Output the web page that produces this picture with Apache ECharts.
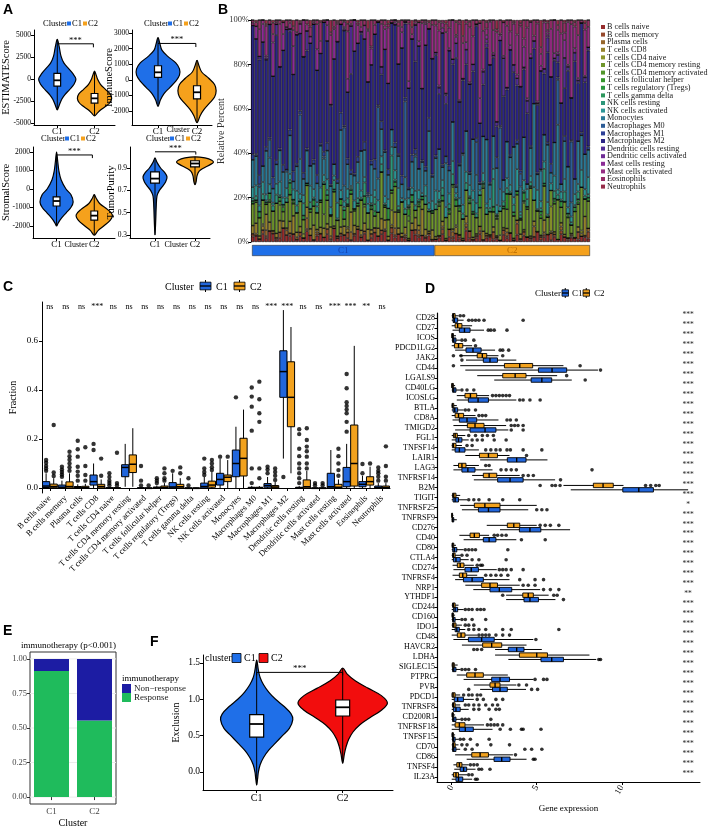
<!DOCTYPE html>
<html><head><meta charset="utf-8">
<script src="https://cdn.jsdelivr.net/npm/echarts@6/dist/echarts.min.js"></script>
<style>html,body{margin:0;padding:0;background:#fff}#c{width:708px;height:829px}</style>
</head><body><div id="c"></div><script>
// ================= DATA =================
const clusterNames = ['C1','C2'];

// Panel A: violin outlines [value, half-width in cluster units], boxes [q1, median, q3]
const estimateC1 = [[4500,0],[3700,0.05],[2600,0.1],[1800,0.18],[1200,0.3],[600,0.42],[0,0.5],[-600,0.45],[-1200,0.33],[-1800,0.2],[-2300,0.12],[-3000,0.05],[-3500,0]];
const estimateC2 = [[900,0],[500,0.04],[0,0.08],[-600,0.16],[-1200,0.3],[-1700,0.42],[-2200,0.46],[-2700,0.41],[-3100,0.3],[-3500,0.17],[-3900,0.07],[-4200,0]];
const estimateBox = [[-800,-150,650],[-2750,-2200,-1650]];
const immuneC1 = [[2700,0],[2300,0.05],[1900,0.1],[1500,0.25],[1100,0.45],[700,0.55],[300,0.55],[-100,0.45],[-500,0.3],[-900,0.15],[-1300,0.06],[-1700,0]];
const immuneC2 = [[1250,0],[900,0.05],[500,0.12],[100,0.3],[-300,0.45],[-700,0.49],[-1100,0.45],[-1500,0.32],[-1900,0.18],[-2300,0.08],[-2750,0]];
const immuneBox = [[150,480,900],[-1220,-800,-380]];
const stromalC1 = [[2000,0],[1500,0.03],[1000,0.06],[500,0.12],[0,0.25],[-300,0.38],[-700,0.44],[-1000,0.38],[-1300,0.25],[-1600,0.12],[-1850,0.04],[-2000,0]];
const stromalC2 = [[-300,0],[-500,0.05],[-800,0.15],[-1100,0.35],[-1400,0.48],[-1700,0.42],[-2000,0.25],[-2250,0.1],[-2500,0]];
const stromalBox = [[-920,-650,-430],[-1680,-1440,-1190]];
const purityC1 = [[0.99,0],[0.95,0.05],[0.9,0.14],[0.86,0.24],[0.82,0.3],[0.78,0.27],[0.74,0.2],[0.7,0.11],[0.65,0.05],[0.55,0.03],[0.45,0.02],[0.3,0]];
const purityC2 = [[1.0,0],[0.99,0.25],[0.97,0.42],[0.95,0.46],[0.93,0.38],[0.9,0.22],[0.87,0.1],[0.83,0.05],[0.78,0.03],[0.75,0]];
const purityBox = [[0.765,0.805,0.865],[0.91,0.94,0.965]];

// Panel B: cell types and per-sample CIBERSORT estimates (C1 samples first, then C2)
const cellTypes = ['B cells naive','B cells memory','Plasma cells','T cells CD8','T cells CD4 naive','T cells CD4 memory resting','T cells CD4 memory activated','T cells follicular helper','T cells regulatory (Tregs)','T cells gamma delta','NK cells resting','NK cells activated','Monocytes','Macrophages M0','Macrophages M1','Macrophages M2','Dendritic cells resting','Dendritic cells activated','Mast cells resting','Mast cells activated','Eosinophils','Neutrophils'];
const clusterSizes = [54, 46];
const pctBNaive = [2,3,1,4,2,5,3,1,2,6, 3,2,4,1,3,2,5,2,1,3, 4,2,3,1,6,2,3,4,2,1, 3,5,2,3,1,2,4,3,2,6, 1,3,2,4,3,2,1,5,3,2, 4,2,3,1,
  1,2,3,1,2,1,4,2,1,3, 2,1,2,5,1,2,3,1,2,1, 3,2,4,1,2,1,3,2,1,2, 6,1,2,3,1,2,1,4,2,1, 3,2,1,2,3,1];
const pctBMemory = [1,0,0,2,1,0,0,1,3,0, 0,1,0,0,2,0,1,0,0,1, 0,0,2,1,0,0,1,0,3,0, 1,0,0,1,0,2,0,0,1,0, 0,2,1,0,0,1,0,0,2,1, 0,0,1,0,
  0,1,2,0,3,1,0,2,0,1, 4,0,1,2,0,1,0,3,1,0, 2,1,0,0,3,1,2,0,1,0, 0,2,1,0,4,1,0,2,0,1, 1,0,3,0,1,2];
const pctPlasma = [0,1,0,0,3,0,1,0,0,0, 2,0,0,1,0,0,5,0,0,1, 0,0,0,2,0,1,0,0,0,4, 0,0,1,0,0,0,2,0,0,1, 0,0,3,0,0,1,0,0,0,2, 0,1,0,0,
  0,0,1,0,0,2,0,0,0,1, 0,0,0,3,0,0,1,0,0,0, 0,2,0,0,1,0,0,0,0,4, 0,0,1,0,0,0,0,2,0,0, 1,0,0,0,0,1];
const pctCD8 = [3,5,1,2,8,4,0,2,6,3, 1,4,9,2,3,0,5,2,7,1, 3,4,2,6,1,0,3,5,2,10, 4,1,2,3,6,2,0,4,3,5, 2,1,7,3,2,4,1,3,5,2, 16,3,1,4,
  1,0,2,1,0,1,3,0,1,2, 0,1,1,0,4,1,0,2,1,0, 1,2,0,1,0,3,1,0,1,2, 0,1,5,0,1,1,0,2,1,0, 1,0,2,1,12,0];
const pctCD4Naive = [0,0,0,1,0,0,0,0,0,0, 0,0,0,0,0,2,0,0,0,0, 0,0,0,0,0,0,0,0,1,0, 0,0,0,0,0,0,0,0,0,0, 0,5,0,0,0,0,0,0,0,0, 0,0,0,0,
  0,0,0,0,0,0,1,0,0,0, 0,0,0,0,0,0,0,0,0,3, 0,0,0,0,0,0,0,0,0,0, 0,0,0,0,14,0,0,0,0,0, 0,0,0,1,0,0];
const pctCD4MemRest = [8,10,6,12,5,9,7,14,8,4, 11,9,6,8,13,7,10,5,9,8, 12,6,9,7,15,8,10,4,11,9, 7,8,13,6,9,10,5,8,12,7, 9,6,11,8,18,7,10,9,3,8, 6,12,9,7,
  10,14,8,12,6,16,9,13,11,7, 15,10,8,12,20,9,13,6,11,14, 8,10,17,12,7,9,13,11,24,8, 12,10,14,7,9,11,16,8,13,10, 6,12,9,15,11,8];
const pctCD4MemAct = [0,0,0,0,0,0,0,0,2,0, 0,0,0,0,0,0,0,0,0,0, 0,13,0,0,0,0,0,0,0,0, 0,0,0,1,0,0,0,0,0,0, 0,0,0,0,0,0,3,0,0,0, 0,0,0,0,
  0,0,0,0,0,1,0,0,0,0, 0,0,0,0,0,0,0,0,0,0, 0,0,0,0,0,0,1,0,0,0, 0,0,0,0,0,0,0,0,0,0, 0,0,0,0,0,0];
const pctTfh = [0,1,0,0,0,1,0,0,0,2, 0,0,1,0,0,0,0,1,0,0, 0,0,0,1,0,0,3,0,0,0, 1,0,0,0,0,1,0,0,0,0, 0,1,0,0,0,0,4,0,0,1, 0,0,0,0,
  0,1,0,0,1,0,0,2,0,0, 1,0,0,0,1,0,0,0,1,0, 0,8,0,0,1,0,0,1,0,0, 0,2,0,0,0,1,0,0,0,1, 0,0,1,0,0,0];
const pctTreg = [1,0,2,0,1,3,0,0,2,1, 0,4,1,0,0,2,1,0,3,0, 1,0,2,0,1,0,0,5,1,2, 0,1,0,3,0,1,2,0,0,1, 6,0,2,1,0,0,1,3,0,1, 2,0,0,1,
  0,1,2,0,1,0,3,1,0,0, 2,1,0,8,1,0,0,2,1,0, 1,0,0,2,0,1,4,0,1,0, 0,2,1,0,0,1,0,3,0,1, 0,2,1,0,0,1];
const pctGammaDelta = [0,0,0,0,0,0,0,0,0,0, 0,0,0,0,0,0,0,0,0,0, 0,0,0,0,0,0,0,0,0,0, 0,0,0,0,0,0,3,0,0,0, 0,0,0,0,0,0,0,0,0,0, 0,0,0,0,
  0,0,0,0,0,0,0,0,0,0, 0,0,0,0,0,0,0,0,0,0, 0,0,0,0,0,0,0,0,0,0, 0,0,0,0,0,0,0,0,0,0, 0,0,0,0,0,0];
const pctNKRest = [1,2,0,3,1,0,2,4,1,0, 2,1,0,3,1,6,0,2,1,3, 0,1,2,0,4,1,0,2,3,1, 0,2,1,5,0,1,3,0,2,1, 0,12,1,2,0,3,1,0,2,1, 0,4,1,0,
  2,1,3,0,2,4,1,0,3,2, 1,5,2,0,1,3,2,11,1,0, 2,3,1,4,0,2,1,3,2,0, 1,2,6,1,0,3,2,1,4,0, 2,1,3,0,2,1];
const pctNKAct = [4,5,2,6,3,4,1,5,7,3, 4,2,5,6,3,4,0,5,4,2, 6,3,4,5,2,8,4,3,5,1, 4,6,3,2,5,4,3,6,2,4, 5,3,4,9,2,5,4,3,6,4, 2,5,3,4,
  5,4,3,6,4,5,2,4,5,3, 6,4,5,3,4,2,5,4,6,3, 4,5,3,4,6,2,5,4,3,5, 11,4,3,5,4,6,2,4,5,3, 4,5,3,6,4,5];
const pctMono = [10,14,6,8,22,12,5,9,16,11, 7,13,4,10,18,8,15,6,12,9, 20,7,11,14,5,10,28,9,13,6, 12,8,17,10,4,15,9,11,7,24, 13,6,10,16,8,12,5,11,14,9, 19,7,33,10,
  12,20,5,25,9,15,3,18,28,11, 6,22,14,4,17,30,8,13,24,10, 5,19,12,27,7,16,21,2,14,32, 9,18,11,23,6,13,26,4,15,20, 10,7,17,12,22,8];
const pctM0 = [0,0,1,0,0,8,0,0,0,0, 1,0,0,0,23,0,0,0,0,0, 0,1,0,0,0,0,0,33,0,0, 0,0,0,0,1,0,0,36,0,0, 0,0,0,0,0,41,0,0,1,0, 0,0,0,0,
  0,0,0,4,0,0,0,0,1,0, 0,0,16,0,0,0,0,0,0,36, 0,0,0,0,0,8,0,0,0,0, 0,1,0,0,0,0,18,0,0,0, 43,0,0,0,0,0];
const pctM1 = [2,1,3,0,2,1,4,2,1,3, 0,2,5,1,2,3,1,0,2,4, 1,2,3,1,0,2,8,1,3,2, 1,2,0,3,1,2,4,1,2,1, 3,0,2,1,5,2,1,3,2,0, 1,2,6,1,
  1,0,1,0,2,0,1,1,0,0, 1,0,2,1,0,0,1,0,7,1, 0,0,1,0,1,2,0,0,1,0, 1,0,0,1,5,0,1,0,2,0, 1,0,0,1,0,1];
const pctM2 = [47,55,38,62,44,51,36,58,42,49, 60,33,48,53,40,57,45,37,64,50, 43,56,39,52,46,70,41,54,35,48, 59,44,50,38,61,47,53,42,12,55, 46,37,51,45,73,40,57,49,36,52, 44,58,41,48,
  37,26,51,30,45,22,60,34,41,18, 48,29,55,38,24,43,66,31,20,50, 35,27,46,40,15,53,33,28,44,21, 39,58,25,36,49,32,6,42,19,47, 30,54,23,38,45,28];
const pctDCRest = [0,0,1,0,0,0,0,5,0,0, 0,1,0,0,0,0,9,0,0,0, 0,0,0,1,0,0,0,0,0,24, 0,0,1,0,0,0,0,0,2,0, 0,0,0,0,0,1,0,0,15,0, 0,0,0,0,
  1,3,0,5,0,2,7,0,1,4, 0,3,1,0,6,2,0,1,3,0, 16,1,0,4,2,0,1,5,0,3, 1,0,2,6,0,1,3,0,12,2, 0,4,1,0,3,1];
const pctDCAct = [0,0,0,0,1,0,0,0,0,0, 0,0,0,0,0,0,0,0,0,0, 0,0,0,0,0,0,0,1,0,0, 0,0,0,0,0,0,0,0,0,0, 0,0,0,0,0,0,0,0,0,0, 0,0,0,0,
  0,0,0,1,0,0,0,0,0,0, 0,0,0,0,0,2,0,0,0,0, 0,0,0,0,0,0,0,0,0,0, 0,0,0,1,0,0,0,0,0,0, 0,0,0,0,0,0];
const pctMastRest = [0,6,0,9,1,0,12,0,0,7, 1,0,14,0,5,0,0,2,0,10, 0,0,6,0,13,0,0,1,7,0, 15,0,0,5,0,8,0,0,0,11, 0,0,1,0,9,0,4,0,0,2, 0,10,0,0,
  0,1,2,0,1,0,3,1,0,2, 1,0,0,16,1,2,0,1,0,3, 1,0,2,0,1,0,10,1,2,0, 1,3,0,1,0,2,1,0,7,1, 0,2,1,0,1,0];
const pctMastAct = [1,0,9,2,15,0,3,1,22,5, 0,2,8,1,0,18,3,0,1,12, 6,0,2,46,1,9,0,3,25,1, 0,7,2,0,28,1,4,0,11,2, 30,0,1,19,3,0,33,2,1,8, 40,1,0,14,
  10,26,2,35,8,15,1,42,20,5, 30,12,0,48,18,3,24,9,58,1, 14,32,6,22,11,38,4,28,16,2, 45,7,19,1,27,13,9,36,3,21, 52,10,17,0,29,6];
const pctEos = [1,2,3,0,1,2,4,1,2,0, 3,1,2,5,1,0,2,3,1,2, 9,1,0,2,3,1,2,1,4,2, 0,1,3,2,1,13,2,0,1,3, 2,1,0,2,4,1,2,3,1,0, 2,1,3,2,
  2,4,1,5,3,0,6,2,4,1, 3,7,2,0,5,3,1,4,2,8, 0,3,5,1,4,2,9,3,0,6, 2,4,1,3,5,0,2,7,4,1, 3,2,6,1,4,2];
const pctNeut = [0,1,0,0,2,0,1,0,0,1, 0,0,3,0,1,0,0,2,0,0, 1,0,0,8,0,1,0,0,2,0, 0,1,0,0,5,0,0,1,0,0, 2,0,0,1,0,0,0,3,0,1, 0,0,1,0,
  0,1,0,2,0,0,1,0,9,0, 1,0,0,2,0,1,0,0,6,0, 1,0,0,1,0,2,0,0,1,0, 0,16,0,1,0,0,2,0,1,0, 0,1,0,0,2,0];

// Panel C: boxplot stats [min, q1, median, q3, max] per cell type, outliers [typeIndex, value]
const boxC1 = [[0,0.002,0.008,0.026,0.06],[0,0,0.003,0.012,0.03],[0,0,0.001,0.006,0.015],[0,0.012,0.026,0.053,0.1],[0,0,0,0.001,0.002],[0.005,0.046,0.084,0.095,0.18],[0,0,0,0.001,0.002],[0,0,0.001,0.004,0.01],[0,0,0.004,0.022,0.06],[0,0,0,0,0.001],[0,0,0.006,0.02,0.045],[0,0.012,0.035,0.06,0.12],[0,0.046,0.1,0.155,0.25],[0,0,0,0.003,0.008],[0,0.003,0.01,0.018,0.045],[0.12,0.37,0.475,0.56,0.726],[0,0,0,0.003,0.008],[0,0,0,0,0.001],[0,0,0.005,0.06,0.155],[0,0.005,0.026,0.084,0.18],[0,0.005,0.015,0.026,0.05],[0,0,0.002,0.008,0.02]];
const boxC2 = [[0,0.001,0.006,0.016,0.04],[0,0,0.006,0.025,0.06],[0,0,0.001,0.007,0.017],[0,0,0.006,0.015,0.035],[0,0,0,0.001,0.002],[0.005,0.063,0.097,0.135,0.244],[0,0,0,0,0.001],[0,0,0.002,0.008,0.02],[0,0,0.005,0.015,0.04],[0,0,0,0,0.001],[0,0.003,0.012,0.028,0.065],[0,0.026,0.044,0.053,0.114],[0,0.049,0.121,0.203,0.32],[0,0,0,0.003,0.008],[0,0,0.004,0.01,0.025],[0.06,0.25,0.37,0.515,0.657],[0,0,0.005,0.033,0.07],[0,0,0,0,0.001],[0,0,0.003,0.015,0.035],[0,0.008,0.1,0.257,0.58],[0,0.012,0.026,0.046,0.087],[0,0,0.002,0.008,0.02]];
const outC1 = [[0,0.07],[0,0.08],[0,0.09],[0,0.103],[0,0.114],[1,0.046],[1,0.055],[1,0.065],[1,0.075],[1,0.087],[2,0.03],[2,0.05],[2,0.067],[2,0.087],[2,0.128],[2,0.158],[2,0.193],[3,0.155],[3,0.18],[4,0.01],[4,0.02],[4,0.03],[4,0.045],[4,0.06],[6,0.01],[6,0.03],[6,0.09],[7,0.02],[7,0.03],[7,0.04],[8,0.07],[9,0.01],[9,0.04],[10,0.053],[10,0.065],[10,0.08],[10,0.12],[11,0.128],[12,0.37],[13,0.02],[13,0.08],[13,0.234],[13,0.332],[13,0.373],[13,0.41],[14,0.06],[14,0.075],[14,0.087],[15,0.045],[16,0.02],[16,0.04],[16,0.06],[16,0.08],[16,0.1],[16,0.13],[16,0.16],[16,0.22],[16,0.24],[17,0.01],[17,0.02],[19,0.23],[19,0.27],[19,0.305],[19,0.32],[19,0.335],[19,0.35],[19,0.407],[19,0.465],[20,0.06],[20,0.098],[21,0.03],[21,0.046],[21,0.06],[21,0.07],[21,0.084]];
const outC2 = [[0,0.049],[0,0.063],[0,0.257],[1,0.07],[1,0.085],[1,0.1],[1,0.115],[1,0.13],[1,0.148],[2,0.03],[2,0.053],[2,0.09],[2,0.166],[3,0.05],[3,0.12],[4,0.01],[4,0.02],[4,0.144],[6,0.01],[7,0.03],[7,0.04],[7,0.06],[7,0.08],[8,0.06],[8,0.084],[10,0.073],[10,0.085],[10,0.1],[10,0.114],[11,0.128],[13,0.04],[13,0.08],[13,0.27],[13,0.305],[13,0.362],[13,0.434],[14,0.033],[14,0.05],[14,0.065],[14,0.08],[16,0.08],[16,0.1],[16,0.128],[16,0.15],[16,0.169],[16,0.196],[16,0.244],[17,0.01],[17,0.02],[18,0.05],[18,0.073],[18,0.1],[18,0.13],[18,0.16],[20,0.1],[21,0.03],[21,0.046],[21,0.09],[21,0.17]];
const sigC = ['ns','ns','ns','***','ns','ns','ns','ns','ns','ns','ns','ns','ns','ns','***','***','ns','ns','***','***','**','ns'];

// Panel D: immune checkpoint genes
const genes = ['CD28','CD27','ICOS','PDCD1LG2','JAK2','CD44','LGALS9','CD40LG','ICOSLG','BTLA','CD8A','TMIGD2','FGL1','TNFSF14','LAIR1','LAG3','TNFRSF14','B2M','TIGIT','TNFRSF25','TNFRSF9','CD276','CD40','CD80','CTLA4','CD274','TNFRSF4','NRP1','YTHDF1','CD244','CD160','IDO1','CD48','HAVCR2','LDHA','SIGLEC15','PTPRC','PVR','PDCD1','TNFRSF8','CD200R1','TNFRSF18','TNFSF15','CD70','CD86','TNFSF4','IL23A'];
const dBoxC1 = [[0,0.08,0.15,0.35,0.7],[0.05,0.45,0.75,1.08,1.9],[0,0.05,0.12,0.25,0.5],[0.2,0.84,1.25,1.73,2.55],[0.84,1.86,2.25,2.69,3.8],[0.8,5.1,5.9,6.76,8.6],[2.5,4.67,5.3,5.88,7.06],[0,0.05,0.12,0.25,0.5],[0.3,0.98,1.55,2.16,3.8],[0,0.08,0.18,0.35,0.7],[0.05,0.45,0.9,1.47,2.75],[0.2,1.08,1.96,2.6,3.33],[0,0.25,0.4,0.6,1.0],[0,0.2,0.45,0.78,1.6],[1.67,3.27,3.82,4.37,5.63],[0.1,0.6,0.95,1.37,2.4],[1.3,2.7,3.43,4.2,6.08],[7.0,10.06,11.0,11.86,13.9],[0,0.08,0.2,0.4,0.9],[0.6,1.57,2.16,2.84,4.5],[0,0.02,0.06,0.12,0.3],[2.84,3.98,4.6,5.24,6.96],[0.7,1.86,2.2,2.6,3.8],[0,0.06,0.15,0.3,0.7],[0,0.1,0.25,0.5,1.0],[0.1,0.78,1.15,1.57,2.65],[0.2,0.69,1.2,1.86,3.4],[1.27,2.25,2.8,3.53,5.2],[3.2,4.25,4.6,5.1,6.1],[0,0.1,0.2,0.35,0.7],[0,0.05,0.1,0.2,0.5],[0,0.2,0.3,0.45,0.8],[0.1,0.98,1.76,2.5,4.8],[2.55,3.33,3.82,4.25,5.3],[3.33,5.25,5.88,6.57,8.5],[0,0.05,0.12,0.25,0.5],[0.7,2.35,2.84,3.4,4.8],[1.67,2.4,2.84,3.27,4.37],[0,0.15,0.35,0.69,1.3],[0,0.1,0.25,0.5,1.0],[0,0.05,0.12,0.25,0.5],[0,0.45,0.8,1.27,2.4],[0,0.05,0.1,0.2,0.4],[0,0.05,0.12,0.25,0.5],[0.88,2.49,2.94,3.43,4.4],[0.15,0.5,0.7,0.88,1.4],[0,0.25,0.4,0.65,1.2]];
const dBoxC2 = [[0,0.05,0.1,0.2,0.4],[0,0.2,0.35,0.6,1.2],[0,0,0.05,0.1,0.25],[0,0.16,0.4,0.65,1.2],[0.45,1.5,1.8,2.06,2.75],[0.5,3.1,4.0,4.76,6.57],[1.5,3.0,3.73,4.37,6.2],[0,0,0.03,0.1,0.2],[0.3,0.78,1.1,1.47,2.2],[0,0.02,0.05,0.12,0.3],[0,0.2,0.4,0.7,1.4],[0.1,0.92,1.37,1.9,3.2],[0,0.1,0.2,0.33,0.8],[0,0.04,0.1,0.25,0.6],[0.8,1.63,2.16,2.69,3.4],[0.1,0.4,0.6,0.84,1.6],[1.2,1.86,2.2,2.65,4.0],[6.57,8.33,8.9,9.5,10.1],[0,0.05,0.12,0.25,0.5],[0.5,1.33,1.95,2.84,5.0],[0,0,0.02,0.05,0.1],[2.06,3.27,3.65,4.0,5.0],[0.45,1.08,1.33,1.63,2.2],[0,0.02,0.06,0.12,0.25],[0,0.05,0.1,0.2,0.5],[0.05,0.33,0.5,0.72,1.3],[0.05,0.45,0.65,0.88,1.5],[0.8,1.76,2.25,2.69,4.0],[3.2,4.18,4.5,4.8,5.7],[0,0.05,0.1,0.2,0.4],[0,0.02,0.05,0.1,0.2],[0,0.05,0.12,0.25,0.6],[0,0.33,0.55,0.78,1.5],[0.6,1.82,2.35,2.94,4.4],[2.55,3.98,5.0,5.63,8.1],[0,0.03,0.08,0.15,0.35],[0.3,0.88,1.37,1.86,3.3],[1.3,2.25,2.55,2.84,3.8],[0,0.02,0.08,0.2,0.5],[0,0.05,0.1,0.2,0.5],[0,0.02,0.05,0.1,0.2],[0,0.2,0.45,0.78,1.9],[0,0.02,0.05,0.1,0.2],[0,0.05,0.1,0.2,0.4],[0.2,1.18,1.67,2.16,3.6],[0.1,0.3,0.45,0.6,1.0],[0,0.1,0.25,0.4,0.9]];
const dOutC1 = [[1.0,1.2,1.4,1.6,1.9,4.2],[2.15,2.3,2.5,3.25],[0.6,0.8,1.3],[2.85,3.0,3.35],[0.6],[8.75],[7.85],[0.6,0.9,1.3],[4.0,4.2,4.6,5.2],[0.8,1.0,1.4],[3.25,3.45,3.8],[3.5,4.2],[1.2,1.5,1.8,2.5,3.2],[2.0,2.3,2.6,2.85,3.25,3.45,4.2,5.3],[],[2.9,3.2,3.5,3.8,8.25],[6.4],[],[1.0,1.3,1.6,2.2,3.0,4.0],[5.0,5.3,5.6],[],[],[4.1,5.5],[0.8,1.0,1.2,1.4,3.3],[1.2,1.6,3.2],[2.8,3.0,3.2,3.5,4.2],[4.0,4.9,5.4],[5.4,5.8,6.3],[6.57],[0.8,1.0,1.2,1.5,1.7,1.9],[0.6,0.8,1.2,2.0],[1.0,1.3,1.6,2.0,3.0,3.5,6.3],[4.95],[1.3,1.5,1.76],[8.65,8.75],[0.6,0.8,1.0,1.4],[4.9,5.4,5.6],[1.0,4.7,5.05],[1.5,1.86,2.6,3.0],[1.3,1.6,2.2,2.6,2.8],[0.6,0.8,1.0,2.3],[2.85,3.45,4.1,4.2,5.25],[0.5,0.7,1.1,2.2],[0.8,1.2,4.3,4.7,5.3],[4.8,4.9],[1.6,1.76,2.25],[1.4,1.5]];
const dOutC2 = [[0.5,0.7],[],[],[1.4],[0.1,0.55,3.0],[0.1,7.55],[6.76],[],[2.4,2.6,2.8,3.0,3.2,3.4],[],[1.6,1.8,2.0],[3.5,3.7,3.9,4.2],[1.0,1.4,1.8,2.1,2.45],[0.9,1.2],[4.4],[2.0,2.2],[4.2,4.5,4.8],[5.2,5.9,6.1,6.37,11.4,11.7,12.0,12.2],[],[],[],[5.2,5.5,5.8,6.3],[2.5,2.7,2.95,3.2],[],[0.6,0.9],[1.5,1.7,1.8],[2.0,2.3,2.6,2.9,3.3],[4.2,4.5,4.9],[3.0,6.0,6.2],[],[],[0.8,1.0,1.3],[1.6,1.8,2.0,2.2,2.6,3.0,3.4],[],[],[],[],[3.95,4.4],[0.7,1.0,1.2,1.5,1.7],[0.8,1.0,1.3,1.6,2.0,2.4,2.7],[],[2.1,2.3,2.5,2.7,3.0],[],[0.6,0.9,1.5,2.3,3.4],[3.75],[1.1,1.3,1.5],[1.0,1.2]];
const sigD = ['***','***','***','***','***','***','***','***','***','***','***','***','***','***','***','***','***','***','***','*','***','***','***','***','***','***','***','***','**','***','***','***','***','***','***','***','***','***','***','***','***','***','***','***','***','***','***'];

// Panel E: immunotherapy response proportions
const eCats = ['C1','C2'];
const eResponse = [0.913, 0.555];
const eNonResponse = [0.087, 0.445];

// Panel F: Exclusion violins
const exclC1 = [[1.54,0],[1.4,0.02],[1.3,0.04],[1.2,0.08],[1.1,0.14],[1.0,0.22],[0.9,0.32],[0.8,0.4],[0.72,0.42],[0.6,0.38],[0.5,0.3],[0.4,0.22],[0.3,0.14],[0.2,0.08],[0.1,0.04],[0.0,0.02],[-0.1,0.01],[-0.18,0]];
const exclC2 = [[1.43,0],[1.35,0.05],[1.25,0.15],[1.15,0.3],[1.05,0.45],[0.95,0.52],[0.85,0.45],[0.75,0.32],[0.65,0.2],[0.55,0.12],[0.45,0.07],[0.35,0.04],[0.25,0.02],[0.12,0]];
const exclBox = [[0.48,0.66,0.79],[0.77,0.89,0.99]];

// ================= CHART =================
const SERIF = 'Liberation Serif';
const SANS = 'Liberation Sans';
const BLUE = '#1f6fe8', ORANGE = '#f5a11c', RED = '#f20d0d';
const BBLUE = '#2166dc', BORANGE = '#f2a21e';
const PALETTE = ['#962c2c','#96492c','#96662c','#96832c','#8c962c','#6f962c','#52962c','#35962c','#2c963f','#2c965c','#2c9679','#2c9696','#2c7996','#2c5c96','#2c3f96','#2c2486','#522c96','#6f2c96','#8c2c96','#962c83','#962c66','#962c49'];

const grid = [], xAxis = [], yAxis = [], series = [], elements = [];
function txt(x, y, text, o) {
  o = o || {};
  elements.push({type:'text', x:x, y:y, rotation:o.rot||0, silent:true, z:100,
    style:{text:text, fontFamily:o.ff||SERIF, fontSize:o.fs||9, fontWeight:o.fw||'normal', fill:o.color||'#000',
      align:o.align||'left', verticalAlign:o.va||'middle', textAlign:o.align||'left', textVerticalAlign:o.va||'middle'}});
}
function rectEl(x,y,w,h,fill,stroke){ elements.push({type:'rect', silent:true, z:100, shape:{x:x,y:y,width:w,height:h}, style:{fill:fill, stroke:stroke||null, lineWidth:stroke?0.8:0}}); }
function lineEl(x1,y1,x2,y2,w){ elements.push({type:'line', silent:true, z:100, shape:{x1:x1,y1:y1,x2:x2,y2:y2}, style:{stroke:'#000', lineWidth:w||1}}); }
function boxIcon(x,y,w,h,color){ lineEl(x+w/2, y-h/2, x+w/2, y+h/2, 1); rectEl(x, y-h*0.32, w, h*0.64, color, '#000'); lineEl(x, y, x+w, y, 1.3); }

function valAxis(gi, o) {
  const ax = {type:'value', gridIndex:gi, min:o.min, max:o.max, splitLine:{show:false}, z:o.z||0, nameMoveOverlap:false,
    axisLine:{show:true, onZero:false, lineStyle:{color:'#000', width:1}},
    axisTick:{show:true, length:3, customValues:o.ticks, lineStyle:{color:'#000'}},
    axisLabel:{customValues:o.ticks, formatter:o.fmt, fontFamily:SERIF, fontSize:o.fs||9, color:'#000', margin:o.margin||3, rotate:o.rotate||0}};
  if (o.name) { ax.name = o.name; ax.nameLocation = 'middle'; ax.nameGap = o.nameGap; ax.nameTextStyle = {fontFamily:SERIF, fontSize:o.nfs||10, color:'#000'}; }
  return ax;
}
function violinSeries(xi, yi, c, profile, box, color, bh) {
  return {type:'custom', xAxisIndex:xi, yAxisIndex:yi, clip:false, silent:true, z:1, data:[[c, box[1]]],
    renderItem:function(p, api){
      const R = profile.map(function(d){ return api.coord([c + d[1], d[0]]); });
      const L = profile.slice(1, -1).reverse().map(function(d){ return api.coord([c - d[1], d[0]]); });
      const top = api.coord([c, profile[0][0]]), bot = api.coord([c, profile[profile.length-1][0]]);
      const b1 = api.coord([c - bh, box[2]]), b2 = api.coord([c + bh, box[0]]), m = api.coord([c, box[1]]);
      return {type:'group', children:[
        {type:'polygon', shape:{points:R.concat(L), smooth:0.35}, style:{fill:color, stroke:'#000', lineWidth:1.2}},
        {type:'line', shape:{x1:top[0], y1:top[1], x2:bot[0], y2:bot[1]}, style:{stroke:'#000', lineWidth:1}},
        {type:'rect', shape:{x:b1[0], y:b1[1], width:b2[0]-b1[0], height:b2[1]-b1[1]}, style:{fill:'#fff', stroke:'#000', lineWidth:1.2}},
        {type:'line', shape:{x1:b1[0], y1:m[1], x2:b2[0], y2:m[1]}, style:{stroke:'#000', lineWidth:1.8}}
      ]};
    }};
}
function bracketSeries(xi, yi, br, fs) {
  return {type:'custom', xAxisIndex:xi, yAxisIndex:yi, clip:false, silent:true, z:1, data:[[br.x1, br.y]],
    renderItem:function(p, api){
      const a = api.coord([br.x1, br.y]), b = api.coord([br.x2, br.y]);
      const ch = [{type:'line', shape:{x1:a[0], y1:a[1], x2:b[0], y2:b[1]}, style:{stroke:'#000', lineWidth:1}}];
      if (br.tl != null) { const t = api.coord([br.x1, br.tl]); ch.push({type:'line', shape:{x1:a[0], y1:a[1], x2:a[0], y2:t[1]}, style:{stroke:'#000', lineWidth:1}}); }
      if (br.tr != null) { const t = api.coord([br.x2, br.tr]); ch.push({type:'line', shape:{x1:b[0], y1:b[1], x2:b[0], y2:t[1]}, style:{stroke:'#000', lineWidth:1}}); }
      ch.push({type:'text', style:{text:'***', x:(a[0]+b[0])/2, y:a[1]+1, align:'center', verticalAlign:'bottom', textAlign:'center', textVerticalAlign:'bottom', fontFamily:SERIF, fontSize:fs||9, fill:'#000'}});
      return {type:'group', children:ch};
    }};
}

// ---------- Panel A ----------
const aPanels = [
  {left:28, top:30, width:87, height:95, xmin:0.375, xmax:2.55, ymin:-5227, ymax:5568, ticks:[-5000,-2500,0,2500,5000], fmt:function(v){return String(v);}, name:'ESTIMATEScore', gap:22, v:[estimateC1, estimateC2], box:estimateBox, bh:0.09, br:{x1:1, x2:1.97, y:4000, tr:3600}, leg:[43,24], clLab:null},
  {left:132, top:30, width:80, height:95, xmin:0.333, xmax:2.384, ymin:-2897, ymax:3192, ticks:[-2000,-1000,0,1000,2000,3000], fmt:function(v){return String(v);}, name:'ImmuneScore', gap:17, v:[immuneC1, immuneC2], box:immuneBox, bh:0.09, br:{x1:1, x2:1.97, y:2330, tr:2100}, leg:[144,24], clLab:[178,130]},
  {left:28, top:147, width:87, height:91, xmin:0.375, xmax:2.55, ymin:-2649, ymax:2270, ticks:[-2000,-1000,0,1000,2000], fmt:function(v){return String(v);}, name:'StromalScore', gap:21, v:[stromalC1, stromalC2], box:stromalBox, bh:0.09, br:{x1:1, x2:1.95, y:1840, tr:1670}, leg:[41,139], clLab:[76,245]},
  {left:130, top:147, width:80, height:91, xmin:0.375, xmax:2.375, ymin:0.273, ymax:1.088, ticks:[0.3,0.5,0.7,0.9], fmt:function(v){return v.toFixed(1);}, name:'TumorPurity', gap:13, v:[purityC1, purityC2], box:purityBox, bh:0.11, br:{x1:1, x2:2.02, y:1.045, tr:1.02}, leg:[146,139], clLab:[176,245]}
];
aPanels.forEach(function(o){
  const gi = grid.push({left:o.left, top:o.top, width:o.width, height:o.height}) - 1;
  xAxis.push(valAxis(gi, {min:o.xmin, max:o.xmax, ticks:[1,2], fmt:function(v){return clusterNames[Math.round(v)-1];}, fs:9, margin:2}));
  yAxis.push(valAxis(gi, {min:o.ymin, max:o.ymax, ticks:o.ticks, fmt:o.fmt, fs:7.5, name:o.name, nameGap:o.gap, nfs:10.5, z:5}));
  const xi = xAxis.length - 1, yi = yAxis.length - 1;
  series.push(violinSeries(xi, yi, 1, o.v[0], o.box[0], BLUE, o.bh));
  series.push(violinSeries(xi, yi, 2, o.v[1], o.box[1], ORANGE, o.bh));
  series.push(bracketSeries(xi, yi, o.br, 8.5));
  const lx = o.leg[0], ly = o.leg[1];
  txt(lx, ly, 'Cluster', {fs:8.5});
  rectEl(lx+24, ly-2.5, 4, 4, BLUE); txt(lx+29, ly, 'C1', {fs:8.5});
  rectEl(lx+40, ly-2.5, 4, 4, ORANGE); txt(lx+45, ly, 'C2', {fs:8.5});
  if (o.clLab) txt(o.clLab[0], o.clLab[1], 'Cluster', {fs:8, align:'center'});
});

// ---------- Panel B ----------
const bParts = [pctBNaive,pctBMemory,pctPlasma,pctCD8,pctCD4Naive,pctCD4MemRest,pctCD4MemAct,pctTfh,pctTreg,pctGammaDelta,pctNKRest,pctNKAct,pctMono,pctM0,pctM1,pctM2,pctDCRest,pctDCAct,pctMastRest,pctMastAct,pctEos,pctNeut];
const nSamples = clusterSizes[0] + clusterSizes[1];
bParts.forEach(function(a, k){ if (a.length !== nSamples) throw new Error('B array ' + k + ' length ' + a.length); });
const totals = [];
for (let i = 0; i < nSamples; i++) { let s = 0; bParts.forEach(function(a){ s += a[i]; }); totals.push(s); }
const sampleIds = totals.map(function(t, i){ return 'S' + (i+1); });
const giB = grid.push({left:251, top:20, width:339, height:222}) - 1;
xAxis.push({type:'category', gridIndex:giB, data:sampleIds, axisLine:{show:false}, axisTick:{show:false}, axisLabel:{show:false}});
yAxis.push({type:'value', gridIndex:giB, min:0, max:1, interval:0.2, splitLine:{show:false}, nameMoveOverlap:false,
  axisLine:{show:true, lineStyle:{color:'#000'}}, axisTick:{show:true, length:3, lineStyle:{color:'#000'}},
  axisLabel:{formatter:function(v){return Math.round(v*100) + '%';}, fontFamily:SERIF, fontSize:8.5, color:'#333', margin:2},
  name:'Relative Percent', nameLocation:'middle', nameGap:25, nameTextStyle:{fontFamily:SERIF, fontSize:10, color:'#333'}});
const xiB = xAxis.length - 1, yiB = yAxis.length - 1;
bParts.forEach(function(a, k){
  series.push({type:'bar', name:cellTypes[k], xAxisIndex:xiB, yAxisIndex:yiB, stack:'cib', barCategoryGap:'0%',
    data:a.map(function(v, i){ return v / totals[i]; }), silent:true,
    itemStyle:{color:PALETTE[k], borderColor:'#0a0a0a', borderWidth:0.6}});
});
// cluster annotation bar
const giBc = grid.push({left:252, top:245, width:338, height:11}) - 1;
xAxis.push({type:'value', gridIndex:giBc, min:0, max:nSamples, show:false});
yAxis.push({type:'category', gridIndex:giBc, data:['cluster'], show:false});
[0,1].forEach(function(k){
  series.push({type:'bar', name:'annot'+k, xAxisIndex:xAxis.length-1, yAxisIndex:yAxis.length-1, stack:'annot', barWidth:'100%', silent:true,
    data:[clusterSizes[k]], itemStyle:{color:k===0?BLUE:ORANGE, borderColor:'#333', borderWidth:0.6},
    label:{show:true, position:'inside', formatter:clusterNames[k], fontFamily:SERIF, fontSize:9, color:k===0?'#1440a8':'#b86a00'}});
});

// ---------- Panel C ----------
const giC = grid.push({left:34, top:302, width:356, height:191}) - 1;
xAxis.push({type:'category', gridIndex:giC, data:cellTypes, axisLine:{show:true, lineStyle:{color:'#000'}},
  axisTick:{show:true, alignWithLabel:true, length:3, lineStyle:{color:'#000'}},
  axisLabel:{interval:0, rotate:45, fontFamily:SERIF, fontSize:8.5, color:'#000', margin:4}});
yAxis.push(valAxis(giC, {min:-0.0204, max:0.759, ticks:[0,0.2,0.4,0.6], fmt:function(v){return v.toFixed(1);}, fs:9, margin:4, name:'Fraction', nameGap:24, nfs:10}));
const xiC = xAxis.length - 1, yiC = yAxis.length - 1;
function vBox(off, bw, color) {
  return function(p, api){
    const i = api.value(0), mn = api.value(1), q1 = api.value(2), md = api.value(3), q3 = api.value(4), mx = api.value(5);
    const cx = api.coord([i, md])[0] + off;
    const y = function(v){ return api.coord([i, v])[1]; };
    return {type:'group', children:[
      {type:'line', shape:{x1:cx, y1:y(mx), x2:cx, y2:y(mn)}, style:{stroke:'#000', lineWidth:1}},
      {type:'rect', shape:{x:cx-bw/2, y:y(q3), width:bw, height:Math.max(y(q1)-y(q3), 0.6)}, style:{fill:color, stroke:'#000', lineWidth:1}},
      {type:'line', shape:{x1:cx-bw/2, y1:y(md), x2:cx+bw/2, y2:y(md)}, style:{stroke:'#000', lineWidth:1.5}}
    ]};
  };
}
[[boxC1, outC1, BBLUE, -3.8], [boxC2, outC2, BORANGE, 3.8]].forEach(function(s){
  series.push({type:'custom', xAxisIndex:xiC, yAxisIndex:yiC, silent:true, encode:{x:0, y:[1,2,3,4,5]},
    data:s[0].map(function(b, i){ return [i].concat(b); }), renderItem:vBox(s[3], 7.2, s[2])});
  series.push({type:'scatter', xAxisIndex:xiC, yAxisIndex:yiC, silent:true, symbolSize:4.4, symbolOffset:[s[3], 0],
    itemStyle:{color:'#000'}, data:s[1]});
});
series.push({type:'custom', xAxisIndex:xiC, yAxisIndex:yiC, silent:true, data:sigC.map(function(s, i){ return [i, 0.739]; }),
  renderItem:function(p, api){ const pt = api.coord([api.value(0), api.value(1)]);
    return {type:'text', style:{text:sigC[p.dataIndex], x:pt[0], y:pt[1], align:'center', verticalAlign:'middle', textAlign:'center', textVerticalAlign:'middle', fontFamily:SERIF, fontSize:8, fill:'#000'}}; }});
txt(165, 287, 'Cluster', {fs:10});
boxIcon(200, 286, 11, 12, BBLUE); txt(216, 287, 'C1', {fs:10});
boxIcon(234, 286, 11, 12, BORANGE); txt(250, 287, 'C2', {fs:10});

// ---------- Panel D ----------
const giD = grid.push({left:437, top:313, width:263, height:469}) - 1;
xAxis.push(valAxis(giD, {min:-0.865, max:14.6, ticks:[0,5,10], fmt:function(v){return String(v);}, fs:9, margin:4, rotate:60, name:'Gene expression', nameGap:22, nfs:9}));
yAxis.push({type:'category', gridIndex:giD, data:genes, inverse:true, axisLine:{show:true, onZero:false, lineStyle:{color:'#000', width:1.2}},
  axisTick:{show:true, alignWithLabel:true, length:2.5, lineStyle:{color:'#000'}},
  axisLabel:{interval:0, fontFamily:SERIF, fontSize:8, color:'#000', margin:2}});
const xiD = xAxis.length - 1, yiD = yAxis.length - 1;
function hBox(off, bh, color) {
  return function(p, api){
    const g = api.value(0), mn = api.value(1), q1 = api.value(2), md = api.value(3), q3 = api.value(4), mx = api.value(5);
    const cy = api.coord([md, g])[1] + off;
    const x = function(v){ return api.coord([v, g])[0]; };
    return {type:'group', children:[
      {type:'line', shape:{x1:x(mn), y1:cy, x2:x(mx), y2:cy}, style:{stroke:'#000', lineWidth:1}},
      {type:'rect', shape:{x:x(q1), y:cy-bh/2, width:Math.max(x(q3)-x(q1), 0.6), height:bh}, style:{fill:color, stroke:'#000', lineWidth:0.9}},
      {type:'line', shape:{x1:x(md), y1:cy-bh/2, x2:x(md), y2:cy+bh/2}, style:{stroke:'#000', lineWidth:1.4}}
    ]};
  };
}
[[dBoxC1, dOutC1, BBLUE, 2.2], [dBoxC2, dOutC2, BORANGE, -2.2]].forEach(function(s){
  series.push({type:'custom', xAxisIndex:xiD, yAxisIndex:yiD, silent:true, encode:{y:0, x:[1,2,3,4,5]},
    data:s[0].map(function(b, i){ return [i].concat(b); }), renderItem:hBox(s[3], 4.4, s[2])});
  const pts = [];
  s[1].forEach(function(arr, g){ arr.forEach(function(v){ pts.push([v, g]); }); });
  series.push({type:'scatter', xAxisIndex:xiD, yAxisIndex:yiD, silent:true, symbolSize:3.6, symbolOffset:[0, s[3]],
    itemStyle:{color:'#000'}, data:pts});
});
series.push({type:'custom', xAxisIndex:xiD, yAxisIndex:yiD, silent:true, encode:{x:0, y:1}, data:sigD.map(function(s, i){ return [13.9, i]; }),
  renderItem:function(p, api){ const pt = api.coord([api.value(0), api.value(1)]);
    return {type:'text', style:{text:sigD[p.dataIndex], x:pt[0], y:pt[1]-3, align:'center', verticalAlign:'middle', textAlign:'center', textVerticalAlign:'middle', fontFamily:SERIF, fontSize:7.5, fill:'#222'}}; }});
txt(535, 294, 'Cluster', {fs:9});
boxIcon(562, 293, 6.5, 10, BBLUE); txt(572, 294, 'C1', {fs:9});
boxIcon(583, 293, 6.5, 10, BORANGE); txt(594, 294, 'C2', {fs:9});

// ---------- Panel E ----------
const giE = grid.push({left:30, top:652, width:86, height:160, show:true, borderColor:'#333', borderWidth:1, backgroundColor:'rgba(0,0,0,0)'}) - 1;
xAxis.push({type:'category', gridIndex:giE, data:eCats, axisLine:{show:false}, nameMoveOverlap:false, axisTick:{show:true, alignWithLabel:true, length:3, lineStyle:{color:'#333'}},
  axisLabel:{fontFamily:SERIF, fontSize:9, color:'#444', margin:3}, name:'Cluster', nameLocation:'middle', nameGap:14, nameTextStyle:{fontFamily:SERIF, fontSize:10, color:'#000'}});
yAxis.push(valAxis(giE, {min:-0.05, max:1.05, ticks:[0,0.25,0.5,0.75,1], fmt:function(v){return v.toFixed(2);}, fs:8.5, margin:3}));
yAxis[yAxis.length-1].axisLine.show = false;
yAxis[yAxis.length-1].axisLabel.color = '#444';
yAxis[yAxis.length-1].axisTick.lineStyle.color = '#333';
const xiE = xAxis.length - 1, yiE = yAxis.length - 1;
series.push({type:'custom', xAxisIndex:xiE, yAxisIndex:yiE, silent:true, z:0, data:[[0,0],[0,0.25],[0,0.5],[0,0.75],[0,1]],
  renderItem:function(p, api){ const y = api.coord([0, api.value(1)])[1]; const cs = p.coordSys;
    return {type:'line', shape:{x1:cs.x, y1:y, x2:cs.x+cs.width, y2:y}, style:{stroke:'#ebebeb', lineWidth:1}}; }});
series.push({type:'bar', name:'Response', xAxisIndex:xiE, yAxisIndex:yiE, stack:'e', barWidth:35, data:eResponse, itemStyle:{color:'#1fbb5c'}, silent:true});
series.push({type:'bar', name:'Non\u2212response', xAxisIndex:xiE, yAxisIndex:yiE, stack:'e', barWidth:35, data:eNonResponse, itemStyle:{color:'#1c1ca3'}, silent:true});
txt(21, 646, 'immunotherapy (p<0.001)', {fs:9});
txt(122, 679, 'immunotherapy', {fs:9});

// ---------- Panel F ----------
const giF = grid.push({left:203, top:655, width:190, height:135}) - 1;
xAxis.push(valAxis(giF, {min:0.376, max:2.585, ticks:[1,2], fmt:function(v){return clusterNames[Math.round(v)-1];}, fs:10, margin:3}));
yAxis.push(valAxis(giF, {min:-0.2476, max:1.609, ticks:[0,0.5,1,1.5], fmt:function(v){return v.toFixed(1);}, fs:9.5, margin:3, name:'Exclusion', nameGap:22, nfs:10}));
const xiF = xAxis.length - 1, yiF = yAxis.length - 1;
series.push(violinSeries(xiF, yiF, 1, exclC1, exclBox[0], BLUE, 0.081));
series.push(violinSeries(xiF, yiF, 2, exclC2, exclBox[1], RED, 0.081));
series.push(bracketSeries(xiF, yiF, {x1:1, x2:2, y:1.37, tl:1.33, tr:1.33}, 9));
txt(205, 658, 'cluster', {fs:10});
rectEl(232, 653.5, 9, 9, BLUE, '#000'); txt(244, 658, 'C1', {fs:10});
rectEl(259, 653.5, 9, 9, RED, '#000'); txt(271, 658, 'C2', {fs:10});

// ---------- Panel letters ----------
[['A',3,10],['B',218,10],['C',3,287],['D',425,289],['E',3,631],['F',150,642]].forEach(function(l){
  txt(l[1], l[2], l[0], {ff:SANS, fs:14, fw:'bold'});
});

const chart = echarts.init(document.getElementById('c'));
chart.setOption({
  animation:false, backgroundColor:'#fff',
  grid:grid, xAxis:xAxis, yAxis:yAxis, series:series,
  legend:[
    {data:cellTypes, orient:'vertical', left:601, top:23, padding:0, icon:'rect', itemWidth:4, itemHeight:4, itemGap:-0.4, selectedMode:false,
      itemStyle:{borderWidth:0}, textStyle:{fontFamily:SERIF, fontSize:8.2, color:'#222', padding:[0,0,0,-3]}},
    {data:['Non\u2212response','Response'], orient:'vertical', left:122, top:684, padding:0, icon:'rect', itemWidth:9, itemHeight:9, itemGap:0, selectedMode:false,
      textStyle:{fontFamily:SERIF, fontSize:9, color:'#222', padding:[0,0,0,-2]}}
  ],
  graphic:{elements:elements}
});
</script></body></html>
